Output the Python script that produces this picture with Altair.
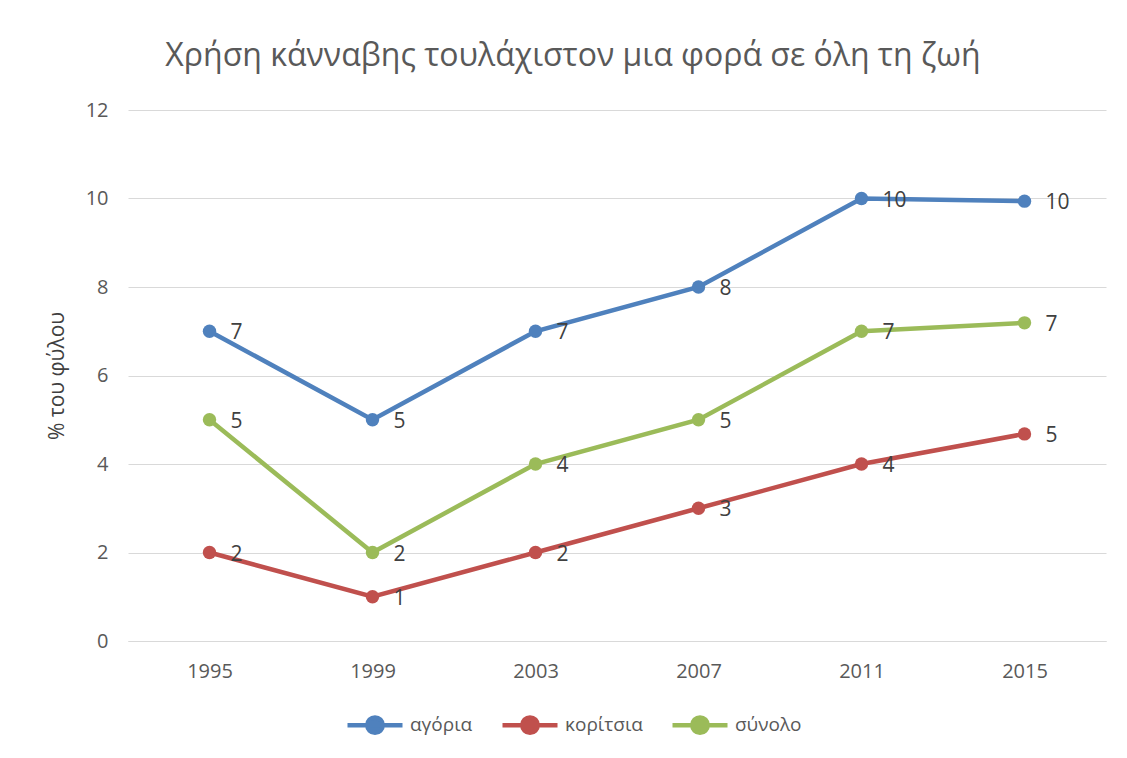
import altair as alt
import pandas as pd

years = ["1995", "1999", "2003", "2007", "2011", "2015"]
boys = [7, 5, 7, 8, 10, 9.94]
girls = [2, 1, 2, 3, 4, 4.68]
total = [5, 2, 4, 5, 7, 7.19]
series_names = ["αγόρια", "κορίτσια", "σύνολο"]
series_colors = ["#4F81BD", "#C0504D", "#9BBB59"]

rows = []
for name, vals in zip(series_names, [boys, girls, total]):
    for y, v in zip(years, vals):
        rows.append({"year": y, "value": v, "series": name})
df = pd.DataFrame(rows)

FONT = "Open Sans"

x = alt.X("year:N", sort=years, title=None,
          scale=alt.Scale(type="point", padding=0.5),
          axis=alt.Axis(labelAngle=0, labelFontSize=20, labelColor="#595959",
                        labelFont=FONT, ticks=False, domain=True, domainColor="#D9D9D9",
                        labelPadding=20, grid=False))
y = alt.Y("value:Q", title="% του φύλου",
          scale=alt.Scale(domain=[0, 12], nice=False),
          axis=alt.Axis(values=[0, 2, 4, 6, 8, 10, 12], labelFontSize=20, labelColor="#595959",
                        labelFont=FONT, ticks=False, domain=False, gridColor="#D9D9D9",
                        gridWidth=1.2, labelPadding=20, titleFontSize=21, titleFont=FONT,
                        titleColor="#404040", titleFontWeight="normal", titlePadding=18))
color = alt.Color("series:N", sort=series_names,
                  scale=alt.Scale(domain=series_names, range=series_colors),
                  legend=alt.Legend(title=None, orient="none", direction="horizontal",
                                    legendX=217, legendY=585, labelFontSize=19,
                                    labelColor="#595959", labelFont=FONT,
                                    symbolType="M -1 0 L 1 0 M -0.28 0 A 0.28 0.28 0 1 1 0.28 0 A 0.28 0.28 0 1 1 -0.28 0",
                                    symbolSize=3025, symbolStrokeWidth=4.5, columnPadding=20,
                                    labelOffset=5))

base = alt.Chart(df)
lines = base.mark_line(strokeWidth=4.5).encode(x=x, y=y, color=color)
points = base.mark_point(filled=True, size=180, opacity=1).encode(x=x, y=y, color=color)
labels = base.mark_text(align="left", baseline="middle", dx=21, dy=2, fontSize=21,
                        color="#404040", font=FONT).encode(
    x=x, y=y, text=alt.Text("value:Q", format=".0f"))

chart = alt.layer(lines, points, labels).properties(
    width=978, height=531,
    title=alt.TitleParams("Χρήση κάνναβης τουλάχιστον μια φορά σε όλη τη ζωή",
                          fontSize=32, font=FONT, fontWeight="normal", color="#595959",
                          anchor="middle", offset=27, dx=-44),
    autosize=alt.AutoSizeParams(type="none"),
    padding={"left": 120, "top": 102, "right": 10, "bottom": 109},
).configure(background="white").configure_view(stroke=None)

chart.save("out.html", embed_options={"renderer": "svg", "actions": False})
